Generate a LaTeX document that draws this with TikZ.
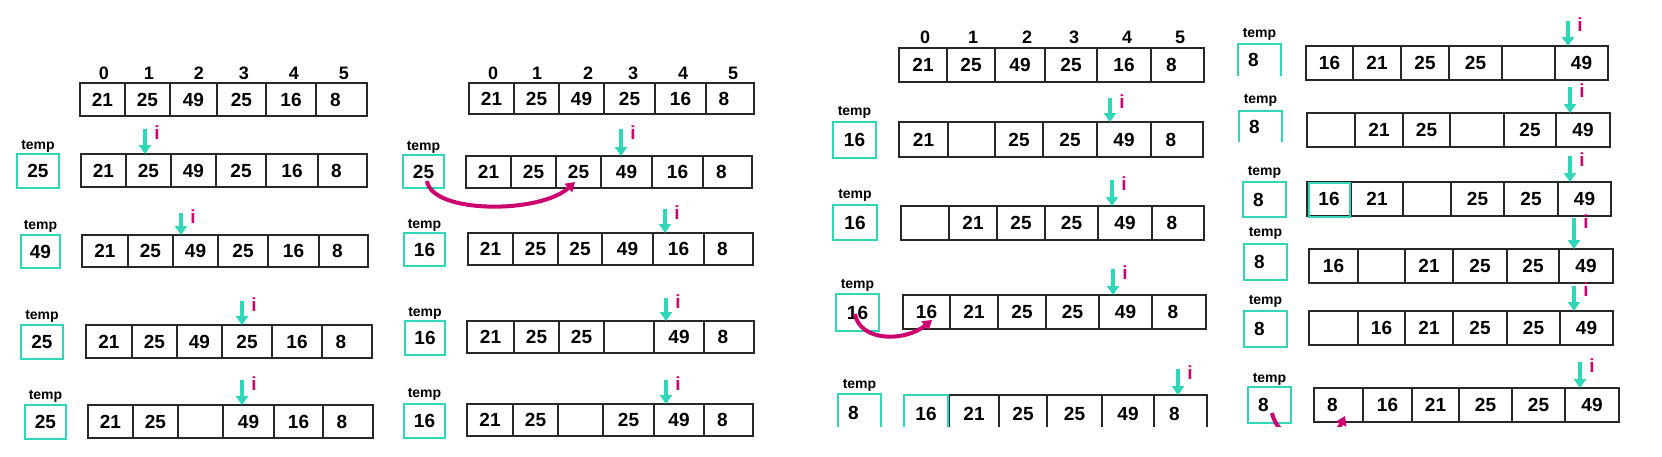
\documentclass[tikz,border=0pt]{standalone}
\usepackage{fontspec}
\setmainfont{Liberation Sans}
\usetikzlibrary{arrows.meta}
\definecolor{tealc}{RGB}{48,214,184}
\definecolor{magc}{RGB}{204,0,110}
\definecolor{edgec}{RGB}{40,40,40}
\tikzset{
 cell/.style={draw=edgec, line width=1.8pt, inner sep=0pt, font=\fontsize{19}{19}\selectfont\bfseries},
 tbox/.style={draw=tealc, line width=1.8pt, inner sep=0pt, font=\fontsize{19}{19}\selectfont\bfseries},
 topen/.style={inner sep=0pt, font=\fontsize{19}{19}\selectfont\bfseries},
 tlbl/.style={font=\fontsize{14}{14}\selectfont\bfseries, inner sep=0pt},
 idx/.style={font=\fontsize{18}{18}\selectfont\bfseries, inner sep=0pt},
 ilbl/.style={font=\fontsize{19}{19}\selectfont\bfseries, text=magc, inner sep=0pt},
 ptr/.style={draw=tealc, line width=4pt, -{Triangle[width=12pt,length=9pt]}},
 swapline/.style={draw=magc, line width=4pt, -{Triangle[width=11pt,length=9pt]}},
}
\newcommand\E{8\hspace*{12pt}}
% array row: name, ytop, ybot, {x boundaries}, {values}
\newcommand\Arr[5]{\foreach \v [count=\k from 0] in {#5}{%
 \pgfmathsetmacro\xa{{#4}[\k]}%
 \pgfmathsetmacro\xb{{#4}[\k+1]}%
 \node[cell, minimum width={(\xb-\xa)*1pt}, minimum height={(#3-#2)*1pt}] (#1-\k) at ({(\xa+\xb)/2},{(#2+#3)/2}) {\v};}}
% temp box: name, x0, x1, y0, y1, value, label y
\newcommand\Tmp[7]{%
 \node[tbox, minimum width={(#3-#2)*1pt}, minimum height={(#5-#4)*1pt}] (#1) at ({(#2+#3)/2},{(#4+#5)/2}) {#6};
 \node[tlbl] (#1-l) at ({(#2+#3)/2},#7) {temp};}
% open-bottom temp box
\newcommand\TmpOpen[7]{%
 \node[topen, minimum width={(#3-#2)*1pt}, minimum height={(#5-#4)*1pt}] (#1) at ({(#2+#3)/2},{(#4+#5)/2}) {#6};
 \draw[tealc, line width=1.8pt] (#1.south west) -- (#1.north west) -- (#1.north east) -- (#1.south east);
 \node[tlbl] (#1-l) at ({(#2+#3)/2},#7) {temp};}
% pointer: name, x, ytop, ybot
\newcommand\Ptr[4]{%
 \coordinate (#1-s) at (#2,#3);
 \coordinate (#1-e) at (#2,#4);
 \draw[ptr] (#1-s) -- (#1-e);
 \node[ilbl] (#1-i) at (#2+12,#3+4) {i};}
% index labels: prefix, y, {xs}
\newcommand\Idx[3]{\foreach \xx [count=\k from 0] in {#3}{\node[idx] (#1-\k) at (\xx,#2) {\k};}}

\begin{document}
\begin{tikzpicture}[x=1pt,y=-1pt]
\useasboundingbox[fill=white] (0,0) rectangle (1662,456);

% ---------- panel 1 ----------
\Idx{iA}{73}{104,149,199,244,294,344}
\Arr{A1}{83}{116}{80,125,170,217,266,316,367}{21,25,49,25,16,\E}
\Arr{A2}{154}{187}{81,126,171,216,266,318,367}{21,25,49,25,16,\E}
\Tmp{tA2}{17}{59}{154}{188}{25}{146}
\Ptr{pA2}{145}{129}{154}
\Arr{A3}{235}{267}{82,128,173,218,268,319,368}{21,25,49,25,16,\E}
\Tmp{tA3}{21}{60}{235}{268}{49}{226}
\Ptr{pA3}{181}{213}{235}
\Arr{A4}{325}{358}{86,132,177,222,272,322,372}{21,25,49,25,16,\E}
\Tmp{tA4}{21}{63}{325}{359}{25}{316}
\Ptr{pA4}{242}{301}{325}
\Arr{A5}{405}{438}{88,133,178,223,274,323,373}{21,25,{},49,16,\E}
\Tmp{tA5}{25}{66}{405}{439}{25}{396}
\Ptr{pA5}{242}{380}{405}

% ---------- panel 2 ----------
\Idx{iB}{73}{493,537,588,633,683,733}
\Arr{B1}{83}{114}{469,514,559,604,655,706,754}{21,25,49,25,16,\E}
\Arr{B2}{156}{188}{466,511,556,601,652,703,752}{21,25,25,49,16,\E}
\Tmp{tB2}{403}{444}{155}{188}{25}{147}
\Ptr{pB2}{621}{129}{156}
\coordinate (mB-s) at (427,181);
\coordinate (mB-e) at (575,182);
\draw[swapline] (mB-s) .. controls (432,214) and (540,214) .. (mB-e);
\Arr{B3}{233}{265}{468,513,558,602,653,704,753}{21,25,25,49,16,\E}
\Tmp{tB3}{404}{445}{233}{266}{16}{225}
\Ptr{pB3}{665}{209}{233}
\Arr{B4}{321}{353}{467,514,559,604,654,704,754}{21,25,25,{},49,\E}
\Tmp{tB4}{405}{445}{321}{355}{16}{313}
\Ptr{pB4}{666}{298}{321}
\Arr{B5}{404}{436}{467,513,558,603,654,704,753}{21,25,{},25,49,\E}
\Tmp{tB5}{404}{445}{404}{438}{16}{394}
\Ptr{pB5}{666}{380}{404}

% ---------- panel 3 ----------
\Idx{iC}{37}{925,973,1027,1074,1127,1180}
\Arr{C1}{48}{82}{899,947,995,1045,1097,1151,1204}{21,25,49,25,16,\E}
\Arr{C2}{122}{157}{899,948,995,1043,1097,1151,1203}{21,{},25,25,49,\E}
\Tmp{tC2}{833}{876}{122}{158}{16}{112}
\Ptr{pC2}{1110}{98}{122}
\Arr{C3}{206}{240}{901,949,997,1045,1098,1152,1204}{{},21,25,25,49,\E}
\Tmp{tC3}{833}{877}{205}{240}{16}{195}
\Ptr{pC3}{1112}{180}{206}
\Arr{C4}{295}{329}{903,950,998,1046,1099,1152,1206}{16,21,25,25,49,\E}
\Tmp{tC4}{836}{879}{294}{331}{16}{285}
\Ptr{pC4}{1113}{269}{295}
\coordinate (mC-s) at (855,314);
\coordinate (mC-e) at (932,320);
\draw[swapline] (mC-s) .. controls (860,342) and (905,342) .. (mC-e);

% ---------- panel 4 ----------
\Arr{D1}{46}{80}{1306,1353,1401,1449,1502,1555,1608}{16,21,25,25,{},49}
\TmpOpen{tD1}{1238}{1281}{44}{76}{\E}{34}
\Ptr{pD1}{1568}{21}{46}
\Arr{D2}{113}{147}{1307,1355,1403,1450,1504,1556,1610}{{},21,25,{},25,49}
\TmpOpen{tD2}{1239}{1282}{111}{142}{\E}{100}
\Ptr{pD2}{1570}{87}{113}
\Arr{D3}{182}{216}{1307,1351,1403,1451,1504,1558,1611}{16,21,{},25,25,49}
\node[draw=tealc, line width=1.6pt, minimum width=41pt, minimum height=34pt, inner sep=0pt] (D3-f) at (1329.5,200) {};
\Tmp{tD3}{1243}{1286}{182}{217}{\E}{172}
\Ptr{pD3}{1570}{156}{182}
\Arr{D4}{249}{283}{1309,1358,1405,1453,1507,1559,1613}{16,{},21,25,25,49}
\Tmp{tD4}{1244}{1287}{244}{280}{\E}{233}
\Ptr{pD4}{1574}{218}{249}
\Arr{D5}{311}{345}{1309,1358,1405,1453,1507,1560,1613}{{},16,21,25,25,49}
\Tmp{tD5}{1244}{1287}{311}{347}{\E}{301}
\Ptr{pD5}{1574}{286}{311}
\Arr{D6}{388}{422}{1314,1363,1412,1459,1512,1565,1619}{\E,16,21,25,25,49}
\Tmp{tD6}{1248}{1291}{387}{423}{\E}{379}
\Ptr{pD6}{1580}{362}{388}

% ---------- clipped bottom of right half ----------
\begin{scope}
\clip (780,0) rectangle (1662,426);
\Arr{C5}{395}{432}{949,999,1047,1102,1154,1207}{21,25,25,49,\E}
\node[tbox, minimum width=44pt, minimum height=37pt] (C5-f) at (926,413.5) {16};
\Tmp{tC5}{838}{881}{394}{432}{\E}{385}
\coordinate (mD-s) at (1272,413);
\coordinate (mD-e) at (1345,416);
\draw[swapline] (mD-s) .. controls (1280,448) and (1330,448) .. (mD-e);
\end{scope}
\Ptr{pC5}{1178}{369}{395}

\end{tikzpicture}
\end{document}
